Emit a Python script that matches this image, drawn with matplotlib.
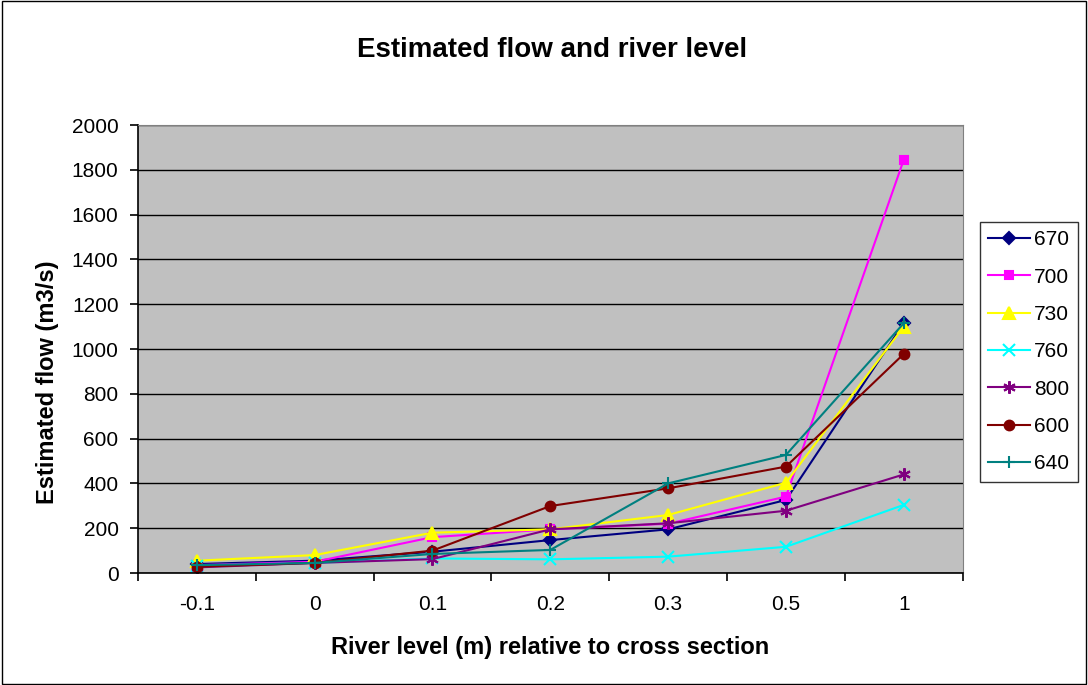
import matplotlib
matplotlib.use("Agg")
import matplotlib.pyplot as plt
from matplotlib.patches import Rectangle

plt.rcParams['font.family'] = ['Liberation Sans', 'DejaVu Sans']

levels = ['-0.1', '0', '0.1', '0.2', '0.3', '0.5', '1']

flow_670 = [40, 55, 95, 147, 195, 326, 1115]
flow_700 = [35, 50, 160, 195, 220, 341, 1845]
flow_730 = [55, 80, 180, 195, 259, 403, 1100]
flow_760 = [30, 45, 65, 61, 73, 117, 304]
flow_800 = [25, 45, 62, 195, 222, 278, 440]
flow_600 = [28, 45, 100, 299, 378, 475, 978]
flow_640 = [35, 45, 85, 103, 400, 527, 1115]

series = [
    ('670', flow_670, '#000080', 'D', 6),
    ('700', flow_700, '#FF00FF', 's', 6),
    ('730', flow_730, '#FFFF00', '^', 8),
    ('760', flow_760, '#00FFFF', 'x', 8),
    ('800', flow_800, '#800080', (6, 2, 0), 9),
    ('600', flow_600, '#800000', 'o', 7),
    ('640', flow_640, '#008080', '+', 9),
]

fig = plt.figure(figsize=(10.88, 6.85), dpi=100)
ax = fig.add_axes([0.1268, 0.1635, 0.758, 0.654])
ax.set_facecolor('#C0C0C0')

x = list(range(len(levels)))
for name, vals, color, marker, ms in series:
    ax.plot(x, vals, color=color, marker=marker, markersize=ms,
            markeredgewidth=1.5, linewidth=1.5, label=name)

ax.set_xlim(-0.5, len(levels) - 0.5)
ax.set_ylim(0, 2000)
ax.set_yticks(range(0, 2001, 200))
ax.yaxis.grid(True, color='black', linewidth=1)
ax.set_axisbelow(True)

# Excel-style category axis: tick marks between categories, labels centred
ax.set_xticks([i - 0.5 for i in range(len(levels) + 1)])
ax.set_xticklabels([])
ax.set_xticks(x, minor=True)
ax.set_xticklabels(levels, minor=True)
ax.tick_params(axis='x', which='major', direction='out', length=6, width=1.2)
ax.tick_params(axis='x', which='minor', length=0, pad=16, labelsize=15)
ax.tick_params(axis='y', direction='out', length=6, width=1.2, labelsize=15, pad=8)

for side in ['top', 'right']:
    ax.spines[side].set_color('#808080')
for side in ['left', 'bottom']:
    ax.spines[side].set_color('black')
    ax.spines[side].set_linewidth(1.2)

fig.suptitle('Estimated flow and river level', x=0.507, y=0.927, va='center',
             fontsize=20, fontweight='bold')
ax.set_xlabel('River level (m) relative to cross section', fontsize=17,
              fontweight='bold')
ax.xaxis.label.set_va('center')
ax.xaxis.set_label_coords(0.5, -0.167)
ax.set_ylabel('Estimated flow (m3/s)', fontsize=17, fontweight='bold')
ax.yaxis.label.set_va('center')
ax.yaxis.set_label_coords(-0.110, 0.426)

leg = fig.legend(loc='upper left', bbox_to_anchor=(0.9007, 0.676), fontsize=15,
                 frameon=True, fancybox=False, edgecolor='black',
                 borderpad=0.4, labelspacing=0.88, handlelength=2.0,
                 handletextpad=0.2, borderaxespad=0)
leg.get_frame().set_linewidth(1)

fig.patches.append(Rectangle((0.002, 0.002), 0.996, 0.996, transform=fig.transFigure,
                             fill=False, edgecolor='black', linewidth=1))

fig.savefig('out.png', dpi=100)
